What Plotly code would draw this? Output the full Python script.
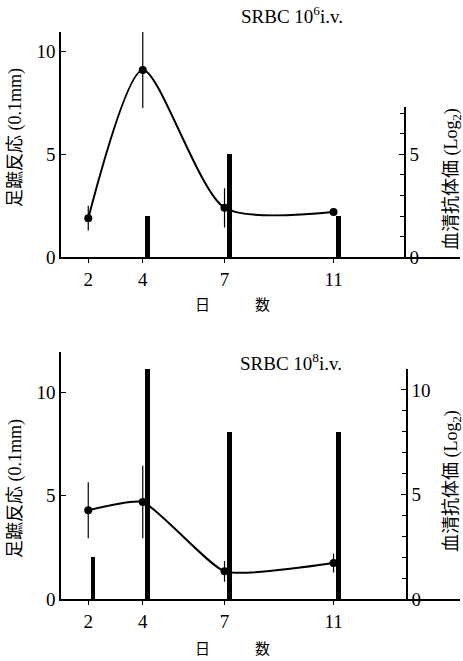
import plotly.graph_objects as go

# ---- data ----
days = [2, 4, 7, 11]
day_labels = ["2", "4", "7", "11"]

# SRBC 10^6 i.v.
foot_top = [1.9, 9.1, 2.4, 2.2]
foot_top_err = [0.6, 1.85, 0.95, 0.0]
titer_top = [0, 2, 5, 2]

# SRBC 10^8 i.v.
foot_bot = [4.3, 4.7, 1.35, 1.75]
foot_bot_err = [1.35, 1.75, 0.5, 0.45]
titer_bot = [2, 11, 8, 8]

left_ticks = [0, 5, 10]
right_ticks = [0, 5, 10]

W, H = 463, 661
SERIF = "Liberation Serif, Noto Sans CJK JP, serif"
CJK = "Liberation Serif, Noto Sans CJK JP"

def py(px):
    return 1 - px / H

def pxx(px):
    return px / W

fig = go.Figure()

bar_style = dict(marker=dict(color="black", line=dict(width=0)), width=0.16, offset=0.1,
                 showlegend=False, hoverinfo="x+y")

# top panel
fig.add_trace(go.Bar(x=days, y=titer_top, xaxis="x", yaxis="y2", **bar_style))
fig.add_trace(go.Scatter(x=days, y=foot_top, xaxis="x", yaxis="y", mode="lines+markers",
                         line=dict(color="black", width=2, shape="spline", smoothing=0.7),
                         marker=dict(color="black", size=8), showlegend=False,
                         error_y=dict(type="data", array=foot_top_err, color="black", thickness=1.2, width=0)))
# bottom panel
fig.add_trace(go.Bar(x=days, y=titer_bot, xaxis="x2", yaxis="y4", **bar_style))
fig.add_trace(go.Scatter(x=days, y=foot_bot, xaxis="x2", yaxis="y3", mode="lines+markers",
                         line=dict(color="black", width=2, shape="spline", smoothing=0.5),
                         marker=dict(color="black", size=8), showlegend=False,
                         error_y=dict(type="data", array=foot_bot_err, color="black", thickness=1.2, width=0)))

xdom = [pxx(61), pxx(460)]
xr = [1.0, 15.64]
tickfont = dict(family=SERIF, size=19, color="black")

common_x = dict(range=xr, domain=xdom, tickvals=days, ticktext=day_labels, ticks="outside",
                ticklen=4, tickwidth=1, tickcolor="black", showline=True, linecolor="black",
                linewidth=1.5, showgrid=False, zeroline=False, tickfont=tickfont, automargin=False)
left_y = dict(showline=True, linecolor="black", linewidth=1.5, ticks="inside", ticklen=5,
              tickcolor="black", tickvals=left_ticks, showgrid=False, zeroline=False,
              tickfont=tickfont, automargin=False)
right_y = dict(showline=True, linecolor="black", linewidth=1.5, ticks="inside", ticklen=5,
               tickcolor="black", showgrid=False, zeroline=False, tickfont=tickfont,
               anchor="free", side="right", automargin=False, tickvals=right_ticks,
               minor=dict(dtick=1, tick0=0, ticks="inside", ticklen=4, tickcolor="black", showgrid=False))

fig.update_layout(
    width=W, height=H, margin=dict(l=0, r=0, t=0, b=0),
    paper_bgcolor="white", plot_bgcolor="rgba(0,0,0,0)",
    bargap=0, barmode="overlay",
    xaxis=dict(anchor="y", **common_x),
    yaxis=dict(anchor="x", domain=[py(257.3), py(32)], range=[0, 10.94], **left_y),
    yaxis2=dict(domain=[py(257.3), py(107)], range=[0, 7.3], position=pxx(405), **right_y),
    xaxis2=dict(anchor="y3", **common_x),
    yaxis3=dict(anchor="x2", domain=[py(599.3), py(351.7)], range=[0, 11.96], **left_y),
    yaxis4=dict(domain=[py(599.3), py(369)], range=[0, 11], position=pxx(407), **right_y),
)

ctr = dict(xref="paper", yref="paper", xanchor="center", yanchor="middle", showarrow=False)
ann = []
ann.append(dict(text="SRBC 10<sup>6</sup>i.v.", x=pxx(292), y=py(15),
                font=dict(family=SERIF, size=19, color="black"), **ctr))
ann.append(dict(text="SRBC 10<sup>8</sup>i.v.", x=pxx(291), y=py(362),
                font=dict(family=SERIF, size=19, color="black"), **ctr))
for yc in (305, 649):
    ann.append(dict(text="日　　　数", x=pxx(233), y=py(yc),
                    font=dict(family=CJK, size=15, color="black"), **ctr))
for yc in (138, 489):
    ann.append(dict(text="足蹠反応 (0.1mm)", x=pxx(15), y=py(yc), textangle=-90,
                    font=dict(family=CJK, size=18, color="black"), **ctr))
for yc in (179, 481):
    ann.append(dict(text="血清抗体価 (Log<sub>2</sub>)", x=pxx(452), y=py(yc), textangle=-90,
                    font=dict(family=CJK, size=18, color="black"), **ctr))
fig.update_layout(annotations=ann)

fig.write_html("out.html", config={"displayModeBar": False},
               post_script="document.body.style.margin='0';document.body.style.padding='0';")
